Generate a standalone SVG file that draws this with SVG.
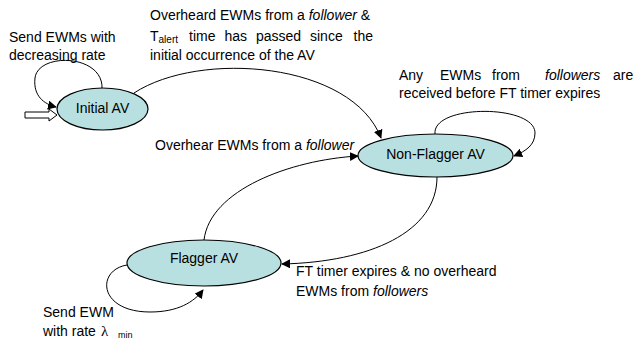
<svg xmlns="http://www.w3.org/2000/svg" width="638" height="341" viewBox="0 0 638 341">
  <style>
    text { font-family: "Liberation Sans", Arial, sans-serif; font-size: 14px; fill: #000; }
    .sub { font-size: 9px; }
    .it { font-style: italic; }
    .state { fill: #b8e0e0; stroke: #000; stroke-width: 1.2; }
    .edge { fill: none; stroke: #000; stroke-width: 1; marker-end: url(#arrow); }
  </style>
  <defs>
    <marker id="arrow" viewBox="0 0 10 10" refX="9" refY="5" markerWidth="9" markerHeight="9" markerUnits="userSpaceOnUse" orient="auto">
      <path d="M0,0 L10,5 L0,10 z" fill="#000"/>
    </marker>
  </defs>
  <rect width="638" height="341" fill="#fff"/>

  <!-- transitions -->
  <g id="connectors">
    <path class="edge" d="M102,89 C104,54 38,52 35,78 C33,96 44,104 56,107"/>
    <path class="edge" d="M134,93 C200,50 352,62 381,138"/>
    <path class="edge" d="M435,134 C432,104 535,104 535,133 C535,145 526,151 514,156"/>
    <path class="edge" d="M204,240 C210,190 290,160 358,156"/>
    <path class="edge" d="M437,177 C437,232 370,262 282,264"/>
    <path class="edge" d="M127,265 C96,270 98,312 150,312 C178,312 194,302 203,290"/>
    <!-- start pointer -->
    <polygon points="25,112 49,112 49,109 57,115 49,121 49,118 25,118" fill="#fff" stroke="#000" stroke-width="1"/>
  </g>

  <g id="initial-av">
    <ellipse class="state" cx="102.5" cy="109" rx="45.5" ry="21"/>
    <text x="102.5" y="113" text-anchor="middle">Initial AV</text>
  </g>
  <g id="non-flagger-av">
    <ellipse class="state" cx="435.5" cy="155.5" rx="77.5" ry="21.5"/>
    <text x="435.5" y="159" text-anchor="middle">Non-Flagger AV</text>
  </g>
  <g id="flagger-av">
    <ellipse class="state" cx="204" cy="263" rx="77" ry="23"/>
    <text x="204" y="263" text-anchor="middle">Flagger AV</text>
  </g>

  <!-- transition labels -->
  <g id="labels">
    <text x="9" y="42">Send EWMs with</text>
    <text x="9" y="60">decreasing rate</text>

    <text x="150" y="20">Overheard EWMs from a <tspan class="it">follower</tspan> &amp;</text>
    <text x="150" y="41">T<tspan font-size="10" dy="2">alert</tspan></text>
    <text x="189" y="41">time</text>
    <text x="224.5" y="41">has</text>
    <text x="256" y="41">passed</text>
    <text x="310" y="41">since</text>
    <text x="353.5" y="41">the</text>
    <text x="150" y="60">initial occurrence of the AV</text>

    <text x="399" y="80">Any</text>
    <text x="440" y="80">EWMs</text>
    <text x="492" y="80">from</text>
    <text x="545" y="80" class="it">followers</text>
    <text x="613" y="80">are</text>
    <text x="399" y="98">received before FT timer expires</text>

    <text x="155" y="150">Overhear EWMs from a <tspan class="it">follower</tspan></text>

    <text x="296" y="276">FT timer expires &amp; no overheard</text>
    <text x="296" y="296">EWMs from <tspan class="it">followers</tspan></text>

    <text x="43" y="317">Send EWM</text>
    <text x="43" y="336">with rate</text>
    <text x="101" y="336"><tspan font-family="'Liberation Serif', serif" font-size="15">λ</tspan><tspan class="sub" x="118" dy="2">min</tspan></text>
  </g>
</svg>
